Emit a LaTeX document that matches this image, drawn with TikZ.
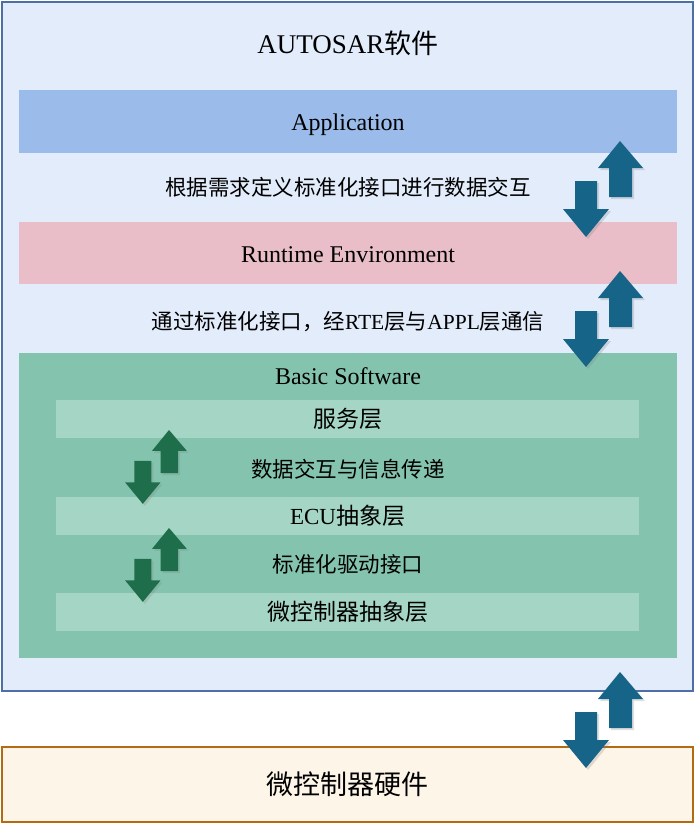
\documentclass[tikz,border=0pt]{standalone}
\usepackage{fontspec}
\setmainfont{Liberation Serif}
\newfontfamily\cjk{Noto Sans CJK SC}
\usetikzlibrary{shadows}
\definecolor{swfill}{HTML}{E2ECFA}
\definecolor{swline}{HTML}{4E6FA6}
\definecolor{appfill}{HTML}{9BBCEB}
\definecolor{rtefill}{HTML}{E9BEC8}
\definecolor{bswfill}{HTML}{84C4AF}
\definecolor{subfill}{HTML}{A5D6C5}
\definecolor{hwfill}{HTML}{FEF5E9}
\definecolor{hwline}{HTML}{B36B12}
\definecolor{arrowblue}{HTML}{176489}
\definecolor{arrowgreen}{HTML}{1F6E4B}
\begin{document}
\begin{tikzpicture}
  [x=1pt,y=-1pt,
   every node/.style={inner sep=0,outer sep=0},
   layer/.style={minimum width=658,text height=18,text depth=0,font=\fontsize{24}{28}\selectfont},
   sublayer/.style={fill=subfill,minimum width=583,minimum height=38,font=\fontsize{23}{27}\selectfont},
   note/.style={font=\fontsize{21.5}{25}\selectfont\cjk},
   blockarrow/.style={drop shadow={shadow xshift=2pt,shadow yshift=-2pt,opacity=.25}}]
  \useasboundingbox (0,0) rectangle (696,824);
  % outer boxes
  \node[draw=swline,line width=1.2,fill=swfill,minimum width=691,minimum height=689] (sw) at (347.5,346.5) {};
  \node[draw=hwline,line width=1.2,fill=hwfill,minimum width=691,minimum height=75,
        font=\fontsize{27}{31}\selectfont\cjk] (hw) at (347.5,784.5) {微控制器硬件};
  \node[font=\fontsize{27}{31}\selectfont] (swtitle) at (348,43) {AUTOSAR{\cjk 软件}};
  % layers
  \node[layer,fill=appfill,minimum height=63] (app) at (348,121.5) {Application};
  \node[layer,fill=rtefill,minimum height=62] (rte) at (348,253) {Runtime Environment};
  \node[layer,fill=bswfill,minimum height=305] (bsw) at (348,505.5) {};
  \node[anchor=base,font=\fontsize{24}{28}\selectfont] (bswtitle) at (348,384) {Basic Software};
  \node[sublayer] (svc) at (347.5,419) {\cjk 服务层};
  \node[sublayer] (ecu) at (347.5,516) {ECU{\cjk 抽象层}};
  \node[sublayer] (mcal) at (347.5,612) {\cjk 微控制器抽象层};
  % interface notes
  \node[note] (appnote) at (348,187) {根据需求定义标准化接口进行数据交互};
  \node[note] (rtenote) at (348,322) {通过标准化接口，经{\rmfamily RTE}层与{\rmfamily APPL}层通信};
  \node[note] (svcnote) at (348,469) {数据交互与信息传递};
  \node[note] (ecunote) at (348,564) {标准化驱动接口};
  % block arrows
  \foreach \ty/\col/\s/\tx in {141/arrowblue/1/620,271/arrowblue/1/620,672/arrowblue/1/620,
                               430/arrowgreen/.77/169,528/arrowgreen/.77/169}
  {
    \begin{scope}[shift={(\tx,\ty)},scale=\s]
      \fill[blockarrow,\col] (0,0) -- (23,27) -- (12,27) -- (12,56) -- (-11,56) -- (-11,27) -- (-22,27) -- cycle;
      \fill[blockarrow,\col] (-45,40) -- (-23,40) -- (-23,68) -- (-11,68) -- (-34,96) -- (-57,68) -- (-45,68) -- cycle;
    \end{scope}
  }
\end{tikzpicture}
\end{document}
